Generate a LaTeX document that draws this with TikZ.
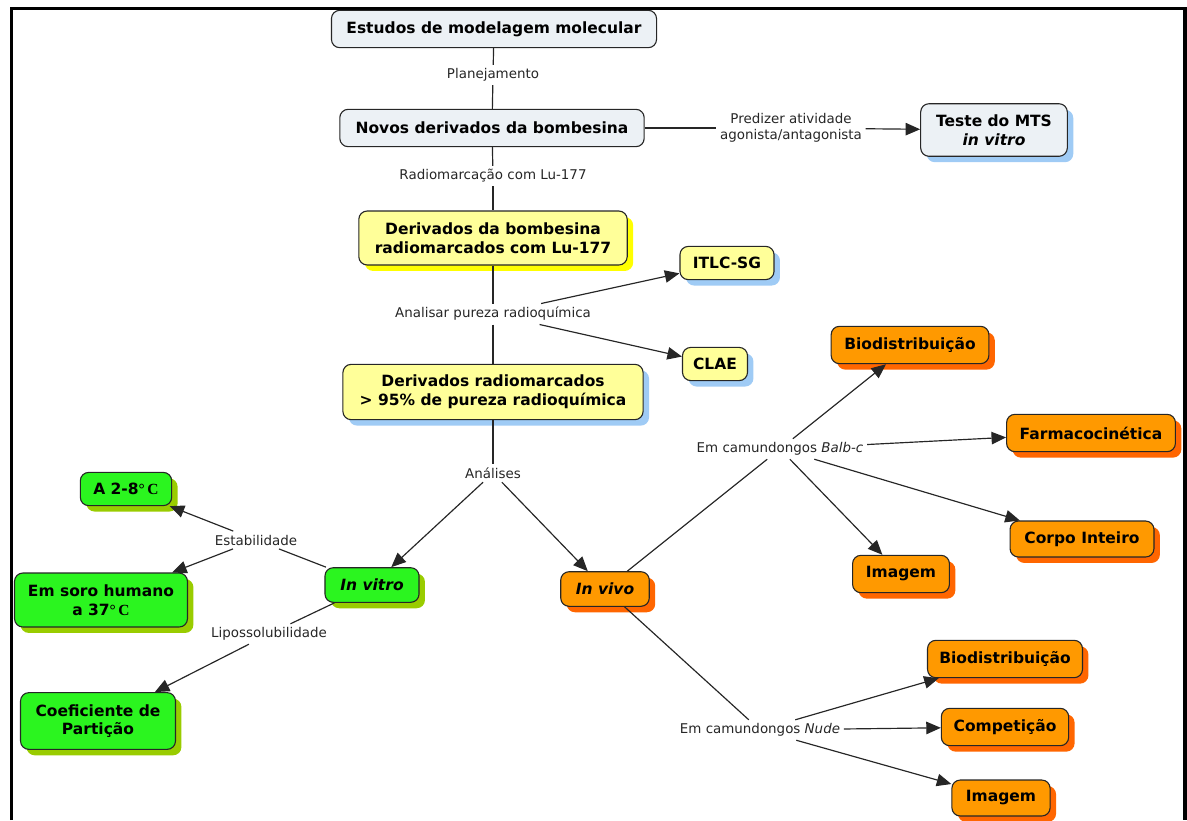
\documentclass[tikz,border=0pt]{standalone}
\usepackage{fontspec}
\setmainfont{DejaVu Sans}
\newfontfamily\degfont{Liberation Serif}
\usepackage{xcolor}
\usepackage{tikz}
\usetikzlibrary{arrows.meta}
\usetikzlibrary{shadows}
\usetikzlibrary{positioning}
\definecolor{cmgray}{HTML}{ECF1F5}
\definecolor{cmblue}{HTML}{9FCBF5}
\definecolor{cmyellow}{HTML}{FFFF99}
\definecolor{cmyelsh}{HTML}{FFFF00}
\definecolor{cmgreen}{HTML}{2BF51F}
\definecolor{cmgreensh}{HTML}{99CC00}
\definecolor{cmorange}{HTML}{FF9900}
\definecolor{cmorangesh}{HTML}{FF6600}
\newcommand{\degC}{{\degfont°\,C}}
\tikzset{
    cmbox/.style = {rectangle, rounded corners=6pt, draw=black!85, line width=0.8pt, align=center, inner sep=2pt, font=\bfseries\fontsize{11.2}{13.5}\selectfont},
    sz/.style 2 args = {minimum width=#1pt, minimum height=#2pt},
    boxgray/.style = {cmbox, fill=cmgray},
    boxgrayb/.style = {cmbox, fill=cmgray, general shadow={shadow xshift=4.3pt, shadow yshift=-4.3pt, fill=cmblue}},
    boxyel/.style = {cmbox, fill=cmyellow, general shadow={shadow xshift=4.3pt, shadow yshift=-4.3pt, fill=cmblue}},
    boxyely/.style = {cmbox, fill=cmyellow, general shadow={shadow xshift=4.3pt, shadow yshift=-4.3pt, fill=cmyelsh}},
    boxgreen/.style = {cmbox, fill=cmgreen, general shadow={shadow xshift=4.3pt, shadow yshift=-4.3pt, fill=cmgreensh}},
    boxorange/.style = {cmbox, fill=cmorange, general shadow={shadow xshift=4.3pt, shadow yshift=-4.3pt, fill=cmorangesh}},
    linklabel/.style = {align=center, inner sep=2.5pt, font=\fontsize{9.7}{11.5}\selectfont, text=black!85},
}

\begin{document}
\begin{tikzpicture}[x=0.0254cm, y=-0.0254cm]
\tikzset{
    edgen/.style = {draw=black!85, line width=0.85pt},
    edgea/.style = {edgen, -{Triangle[length=10.5pt, width=9pt]}}
}
\useasboundingbox (0,0) rectangle (1187,820);
% frame
\draw[line width=2.6pt] (11.5,820) -- (11.5,8.5) -- (1185,8.5) -- (1185,820);
%
\node[boxgray, sz={235}{27}] at (494,29) (estudos) {Estudos de modelagem molecular};
\node[boxgray, sz={220}{27}] at (492,128) (novos) {Novos derivados da bombesina};
\node[boxgrayb, sz={106}{38}] at (994,130) (teste) {Teste do MTS\\\textit{in vitro}};
\node[boxyely, sz={194}{39}] at (493,238) (derivlu) {Derivados da bombesina\\radiomarcados com Lu-177};
\node[boxyel, sz={68}{24}] at (727,263) (itlc) {ITLC-SG};
\node[boxyel, sz={47}{24}] at (715,364) (clae) {CLAE};
\node[boxyel, sz={217}{40}] at (493,392) (deriv95) {Derivados radiomarcados\\> 95\% de pureza radioquímica};
%
\node[boxgreen, sz={66}{24}] at (126,489) (a28) {A 2-8\degC};
\node[boxgreen, sz={125}{39}] at (101,600) (soro) {Em soro humano\\a 37\degC};
\node[boxgreen, sz={112}{41}] at (98,721) (coef) {Coeficiente de\\Partição};
\node[boxgreen, sz={68}{25}] at (372,585) (invitro) {\textit{In vitro}};
%
\node[boxorange, sz={64}{25}] at (605,589) (invivo) {\textit{In vivo}};
\node[boxorange, sz={114}{27}] at (910,345) (biod) {Biodistribuição};
\node[boxorange, sz={122}{27}] at (1091,433) (farmaco) {Farmacocinética};
\node[boxorange, sz={104}{26}] at (1082,539) (corpo) {Corpo Inteiro};
\node[boxorange, sz={70}{27}] at (901,574) (imagem) {Imagem};
\node[boxorange, sz={112}{27}] at (1005,659) (biodn) {Biodistribuição};
\node[boxorange, sz={92}{27}] at (1005,727) (compet) {Competição};
\node[boxorange, sz={71}{26}] at (1001,798) (imagemn) {Imagem};
%
\node[linklabel] at (493,75) (planej) {Planejamento};
\node[linklabel] at (493,176) (radiom) {Radiomarcação com Lu-177};
\node[linklabel] at (791,128) (prediz) {Predizer atividade\\agonista/antagonista};
\node[linklabel] at (493,314) (analis) {Analisar pureza radioquímica};
\node[linklabel] at (493,473) (analises) {Análises};
\node[linklabel] at (256,540) (estab) {Estabilidade};
\node[linklabel] at (269,634) (lipo) {Lipossolubilidade};
\node[linklabel] at (780,449) (balb) {Em camundongos \textit{Balb-c}};
\node[linklabel] at (760,730) (nude) {Em camundongos \textit{Nude}};
%
\draw[edgen] (estudos) -- (planej);
\draw[edgen] (planej) -- (novos);
\draw[edgen] (novos) -- (prediz);
\draw[edgea] (prediz) -- (teste);
\draw[edgen] (novos) -- (radiom);
\draw[edgen] (radiom) -- (derivlu);
\draw[edgen] (derivlu) -- (analis);
\draw[edgen] (analis) -- (deriv95);
\draw[edgea] (analis) -- (itlc);
\draw[edgea] (analis) -- (clae);
%
\draw[edgen] (deriv95) -- (analises);
\draw[edgea] (analises) -- (invitro);
\draw[edgea] (analises) -- (invivo);
%
\draw[edgen] (invitro) -- (estab);
\draw[edgea] (estab) -- (a28);
\draw[edgea] (estab) -- (soro);
\draw[edgen] (invitro) -- (lipo);
\draw[edgea] (lipo) -- (coef);
%
\draw[edgen] (invivo) -- (balb);
\draw[edgea] (balb) -- (biod);
\draw[edgea] (balb) -- (farmaco);
\draw[edgea] (balb) -- (corpo);
\draw[edgea] (balb) -- (imagem);
\draw[edgen] (invivo) -- (nude);
\draw[edgea] (nude) -- (biodn);
\draw[edgea] (nude) -- (compet);
\draw[edgea] (nude) -- (imagemn);
\end{tikzpicture}
\end{document}
